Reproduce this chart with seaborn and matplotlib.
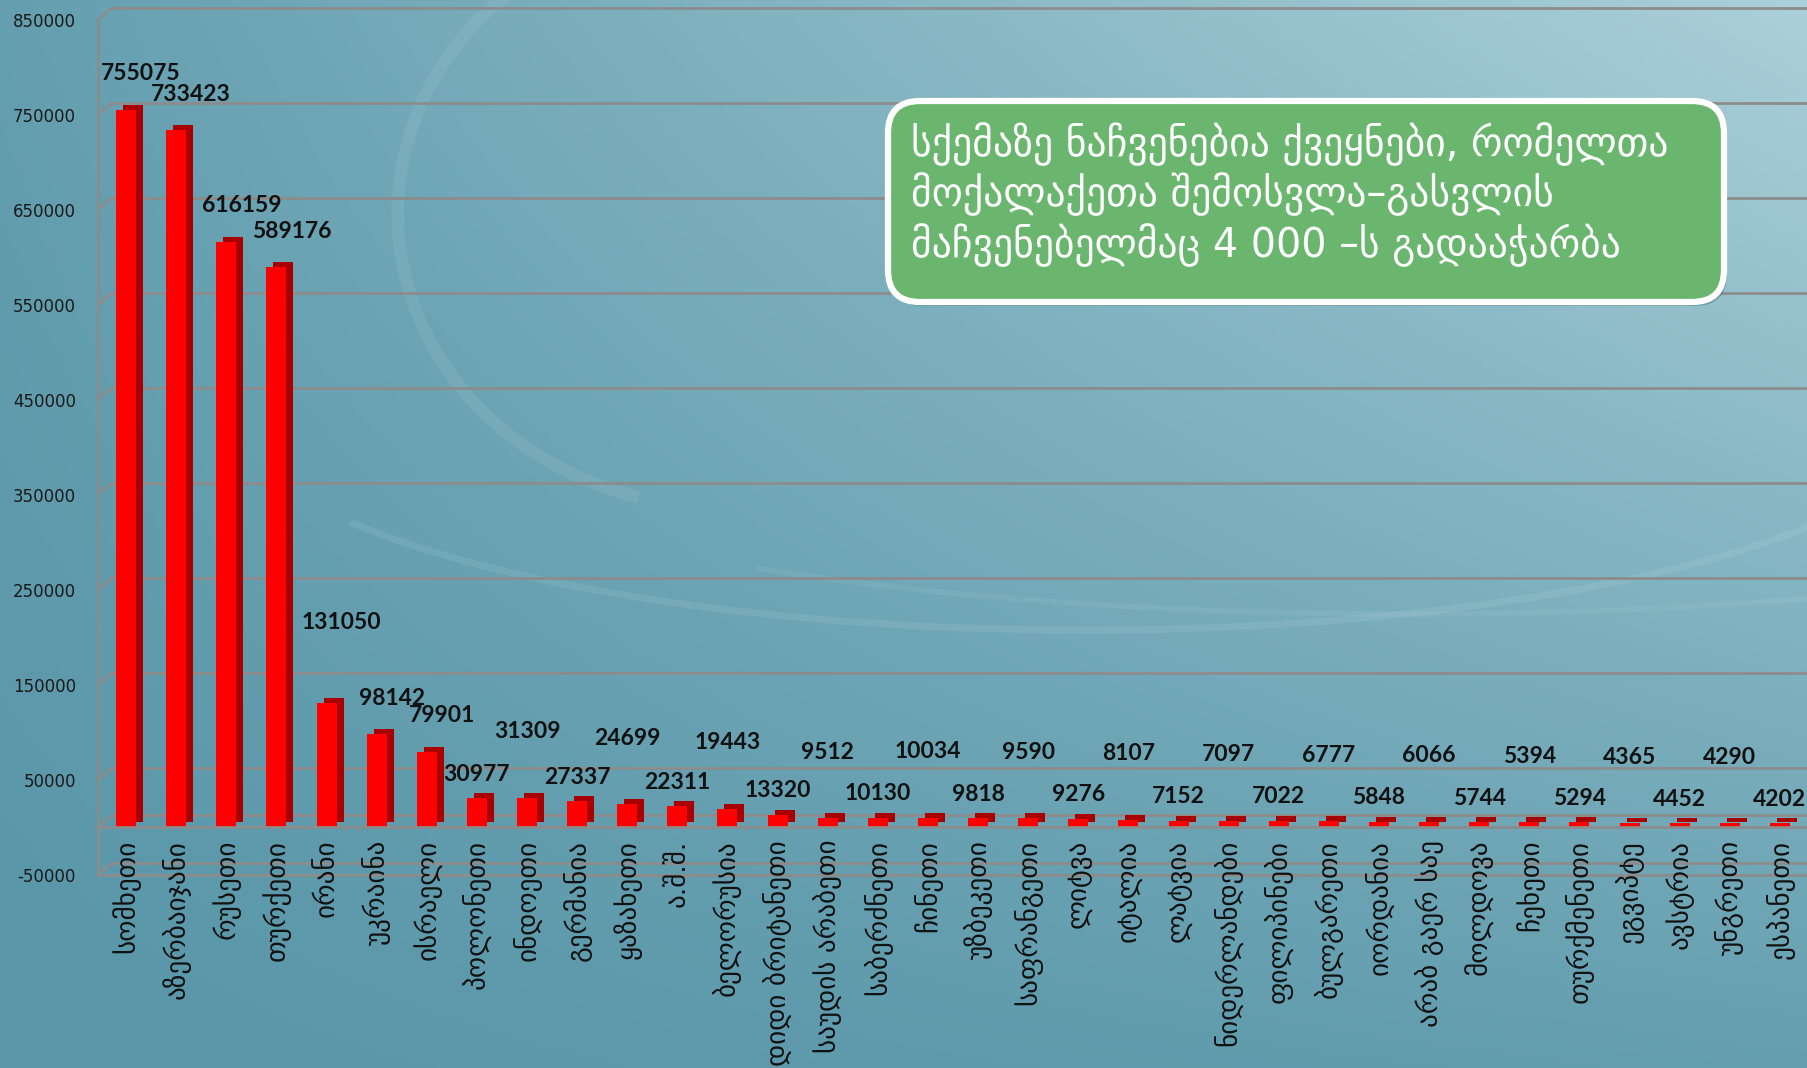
import numpy as np
import pandas as pd
import matplotlib
matplotlib.use("Agg")
import matplotlib.pyplot as plt
import seaborn as sns
from matplotlib.patches import FancyBboxPatch, Arc
from matplotlib.transforms import ScaledTranslation

countries = ["სომხეთი", "აზერბაიჯანი", "რუსეთი", "თურქეთი", "ირანი", "უკრაინა",
             "ისრაელი", "პოლონეთი", "ინდოეთი", "გერმანია", "ყაზახეთი", "ა.შ.შ.",
             "ბელორუსია", "დიდი ბრიტანეთი", "საუდის არაბეთი", "საბერძნეთი", "ჩინეთი",
             "უზბეკეთი", "საფრანგეთი", "ლიტვა", "იტალია", "ლატვია", "ნიდერლანდები",
             "ფილიპინები", "ბულგარეთი", "იორდანია", "არაბ გაერ საე", "მოლდოვა",
             "ჩეხეთი", "თურქმენეთი", "ეგვიპტე", "ავსტრია", "უნგრეთი", "ესპანეთი"]
crossings = [755075, 733423, 616159, 589176, 131050, 98142, 79901, 30977, 31309,
             27337, 24699, 22311, 19443, 13320, 9512, 10130, 10034, 9818, 9590,
             9276, 8107, 7152, 7097, 7022, 6777, 5848, 6066, 5744, 5394, 5294,
             4365, 4452, 4290, 4202]
y_ticks = [-50000, 50000, 150000, 250000, 350000, 450000, 550000, 650000, 750000, 850000]
note = ("სქემაზე ნაჩვენებია ქვეყნები, რომელთა\n"
        "მოქალაქეთა შემოსვლა–გასვლის\n"
        "მაჩვენებელმაც 4 000 –ს გადააჭარბა")

df = pd.DataFrame({"country": countries, "crossings": crossings})

sns.set_style("white")
plt.rcParams["font.family"] = ["DejaVu Sans"]

grid_c = "#8c8c8c"
W, H = 18.08, 10.68
fig = plt.figure(figsize=(W, H), dpi=100)

# background gradient + soft swirls
bg = fig.add_axes([0, 0, 1, 1], zorder=-10)
gx, gy = np.meshgrid(np.linspace(0, 1, 400), np.linspace(0, 1, 300))
t = 0.7 * gx * gy + 0.3 * (gx + gy) / 2
c0 = np.array([0x58, 0x96, 0xa8]) / 255
c1 = np.array([0xab, 0xd0, 0xd9]) / 255
img = c0 + (c1 - c0) * t[..., None]
bg.imshow(img, extent=[0, 1, 0, 1], origin="lower", aspect="auto")
bg.add_patch(Arc((0.60, 0.62), 0.95, 0.42, theta1=195, theta2=345, color="white", alpha=0.08, lw=5))
bg.add_patch(Arc((0.40, 0.80), 0.36, 0.55, theta1=110, theta2=260, color="white", alpha=0.07, lw=9))
bg.add_patch(Arc((0.78, 0.60), 1.1, 0.35, theta1=200, theta2=355, color="white", alpha=0.06, lw=4))
bg.set_xlim(0, 1)
bg.set_ylim(0, 1)
bg.axis("off")

ax = fig.add_axes([98 / 1808, 1 - 875 / 1068, 1 - 98 / 1808, (875 - 19.6) / 1068])
ax.set_facecolor("none")

# side faces of the bars (shifted copy), then the front faces
sns.barplot(data=df, x="country", y="crossings", color="#a80000", saturation=1,
            width=0.4, linewidth=0, ax=ax)
depth = ScaledTranslation(7 / 100, 5 / 100, fig.dpi_scale_trans)
for p in ax.patches:
    p.set_transform(ax.transData + depth)
sns.barplot(data=df, x="country", y="crossings", color="#ff0000", saturation=1,
            width=0.4, linewidth=0, ax=ax)

ax.set_xlim(-0.56, len(countries) - 0.44)
ax.set_ylim(-50000, 850000)
ax.set_xlabel("")
ax.set_ylabel("")

# back-wall grid lines with a little perspective
back = ScaledTranslation(14 / 100, 12 / 100, fig.dpi_scale_trans)
for v in y_ticks + [0]:
    ln = ax.axhline(v, color=grid_c, lw=2, zorder=0, clip_on=False)
    ln.set_transform(ln.get_transform() + back)
    ax.annotate("", xy=(0, v), xycoords=ax.get_yaxis_transform(), xytext=(14, 12),
                textcoords="offset pixels", annotation_clip=False,
                arrowprops=dict(arrowstyle="-", color=grid_c, lw=2, shrinkA=0, shrinkB=0))
ax.axhline(-50000, color=grid_c, lw=2, zorder=0, clip_on=False)

for s in ["top", "right"]:
    ax.spines[s].set_visible(False)
ax.spines["left"].set_color(grid_c)
ax.spines["left"].set_linewidth(2)
ax.spines["bottom"].set_position(("data", 0))
ax.spines["bottom"].set_color(grid_c)
ax.spines["bottom"].set_linewidth(2)

ax.set_yticks(y_ticks)
ax.set_yticklabels([str(v) for v in y_ticks])
ax.tick_params(axis="y", length=6, width=1.5, color=grid_c, pad=10,
               labelsize=12, labelcolor="#1a1a1a")
ax.set_xticks(np.arange(len(countries)) + 0.5, minor=True)
ax.tick_params(axis="x", which="major", length=0, pad=9, labelsize=19.5,
               labelrotation=90, labelcolor="#111111")
ax.tick_params(axis="x", which="minor", length=8, width=1.5, color=grid_c)

# value labels, staggered like the original
for i, v in enumerate(crossings):
    if v > 50000:
        dx, dy = 15, 36
        if 100000 < v < 200000:
            dy = 80
    elif i % 2 == 0:
        dx, dy = 0, 66
    else:
        dx, dy = 0, 24
    ax.annotate(str(v), xy=(i, v), xytext=(dx, dy), textcoords="offset pixels",
                ha="center", va="center", fontsize=16.5, fontweight="bold",
                family=["Lato", "DejaVu Sans"], color="#111111", annotation_clip=False)

# note box
shadow = FancyBboxPatch((8.91, H - 3.06), 8.36, 2.01, boxstyle="round,pad=0,rounding_size=0.32",
                        transform=fig.dpi_scale_trans, fc="#2f5f6c", alpha=0.35, ec="none")
box = FancyBboxPatch((8.88, H - 3.02), 8.36, 2.01, boxstyle="round,pad=0,rounding_size=0.32",
                     transform=fig.dpi_scale_trans, fc="#6bb66f", ec="white", lw=4.5)
fig.add_artist(shadow)
fig.add_artist(box)
fig.text(9.11 / W, 1 - 1.22 / H, note, ha="left", va="top", fontsize=28.5,
         color="white", linespacing=1.2)

plt.savefig("out.png", dpi=100)
